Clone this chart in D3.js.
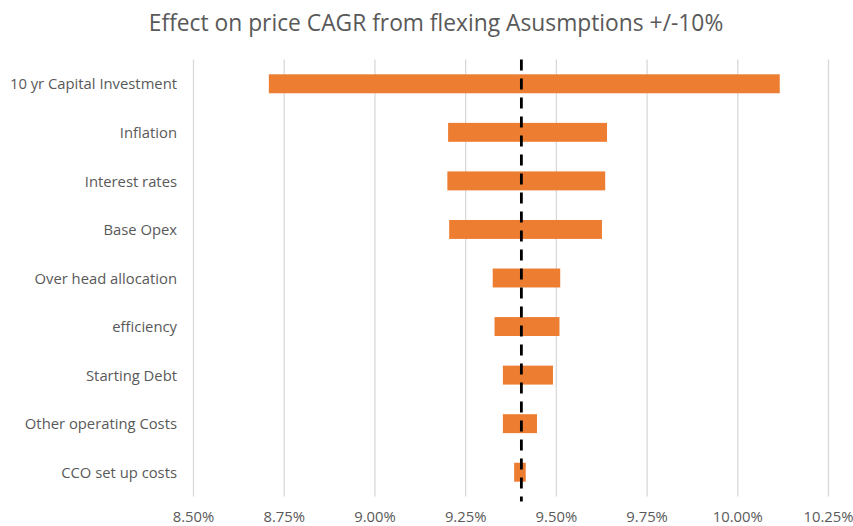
<!DOCTYPE html>
<html>
<head>
<meta charset="utf-8">
<script src="https://cdn.jsdelivr.net/npm/d3@7"></script>
<style>
  body { margin: 0; background: #fff; }
  text { font-family: "Open Sans", sans-serif; fill: #595959; }
</style>
</head>
<body>
<div class="chart"></div>
<script>
// tornado data: price CAGR when each assumption is flexed -10% / +10%
var categories = ["10 yr Capital Investment", "Inflation", "Interest rates", "Base Opex",
  "Over head allocation", "efficiency", "Starting Debt", "Other operating Costs", "CCO set up costs"];
var lowValues = [0.08709, 0.09203, 0.09201, 0.09206, 0.09326, 0.09331, 0.09354, 0.09354, 0.09385];
var highValues = [0.10117, 0.09641, 0.09636, 0.09627, 0.09512, 0.09510, 0.09492, 0.09448, 0.09417];
var baseValue = 0.09405;
var xTicks = [0.085, 0.0875, 0.09, 0.0925, 0.095, 0.0975, 0.10, 0.1025];

var svgWidth = 853, svgHeight = 526;
var margin = { top: 59.5, right: 25, bottom: 29.5, left: 193 };
var width = 828 - margin.left;
var height = svgHeight - margin.top - margin.bottom;

var svg = d3.select(".chart")
  .append("svg")
  .attr("width", svgWidth)
  .attr("height", svgHeight);

svg.append("text")
  .attr("x", 436)
  .attr("y", 31)
  .attr("text-anchor", "middle")
  .style("font-size", "22.8px")
  .text("Effect on price CAGR from flexing Asusmptions +/-10%");

var chartGroup = svg.append("g")
  .attr("transform", `translate(${margin.left}, ${margin.top})`);

var xScale = d3.scaleLinear()
  .domain([0.085, 0.1025])
  .range([0, width]);

var yScale = d3.scaleBand()
  .domain(categories)
  .range([0, height])
  .paddingInner(0.61)
  .paddingOuter(0.305);

// x axis with gridlines
var bottomAxis = d3.axisBottom(xScale)
  .tickValues(xTicks)
  .tickFormat(d3.format(".2%"))
  .tickSizeInner(-height)
  .tickSizeOuter(0)
  .tickPadding(15);

var xAxisG = chartGroup.append("g")
  .attr("transform", `translate(0, ${height})`)
  .call(bottomAxis);
xAxisG.select(".domain").remove();
xAxisG.selectAll("line").attr("stroke", "#d9d9d9").attr("stroke-width", 1.3);
xAxisG.selectAll("text").style("font-size", "14.8px").attr("fill", "#595959");

// category labels
var leftAxis = d3.axisLeft(yScale).tickSize(0).tickPadding(16);
var yAxisG = chartGroup.append("g").call(leftAxis);
yAxisG.select(".domain").remove();
yAxisG.selectAll("text").style("font-size", "14.8px").attr("fill", "#595959").attr("dy", "0.38em");

// bars
chartGroup.selectAll("rect.bar")
  .data(categories)
  .enter()
  .append("rect")
  .attr("class", "bar")
  .attr("x", (d, i) => xScale(lowValues[i]))
  .attr("y", d => yScale(d))
  .attr("width", (d, i) => xScale(highValues[i]) - xScale(lowValues[i]))
  .attr("height", yScale.bandwidth())
  .attr("fill", "#ed7d31");

// base case dashed line
chartGroup.append("line")
  .attr("x1", xScale(baseValue))
  .attr("x2", xScale(baseValue))
  .attr("y1", 0)
  .attr("y2", height + 5)
  .attr("stroke", "#000")
  .attr("stroke-width", 2.8)
  .attr("stroke-dasharray", "11,8");
</script>
</body>
</html>
